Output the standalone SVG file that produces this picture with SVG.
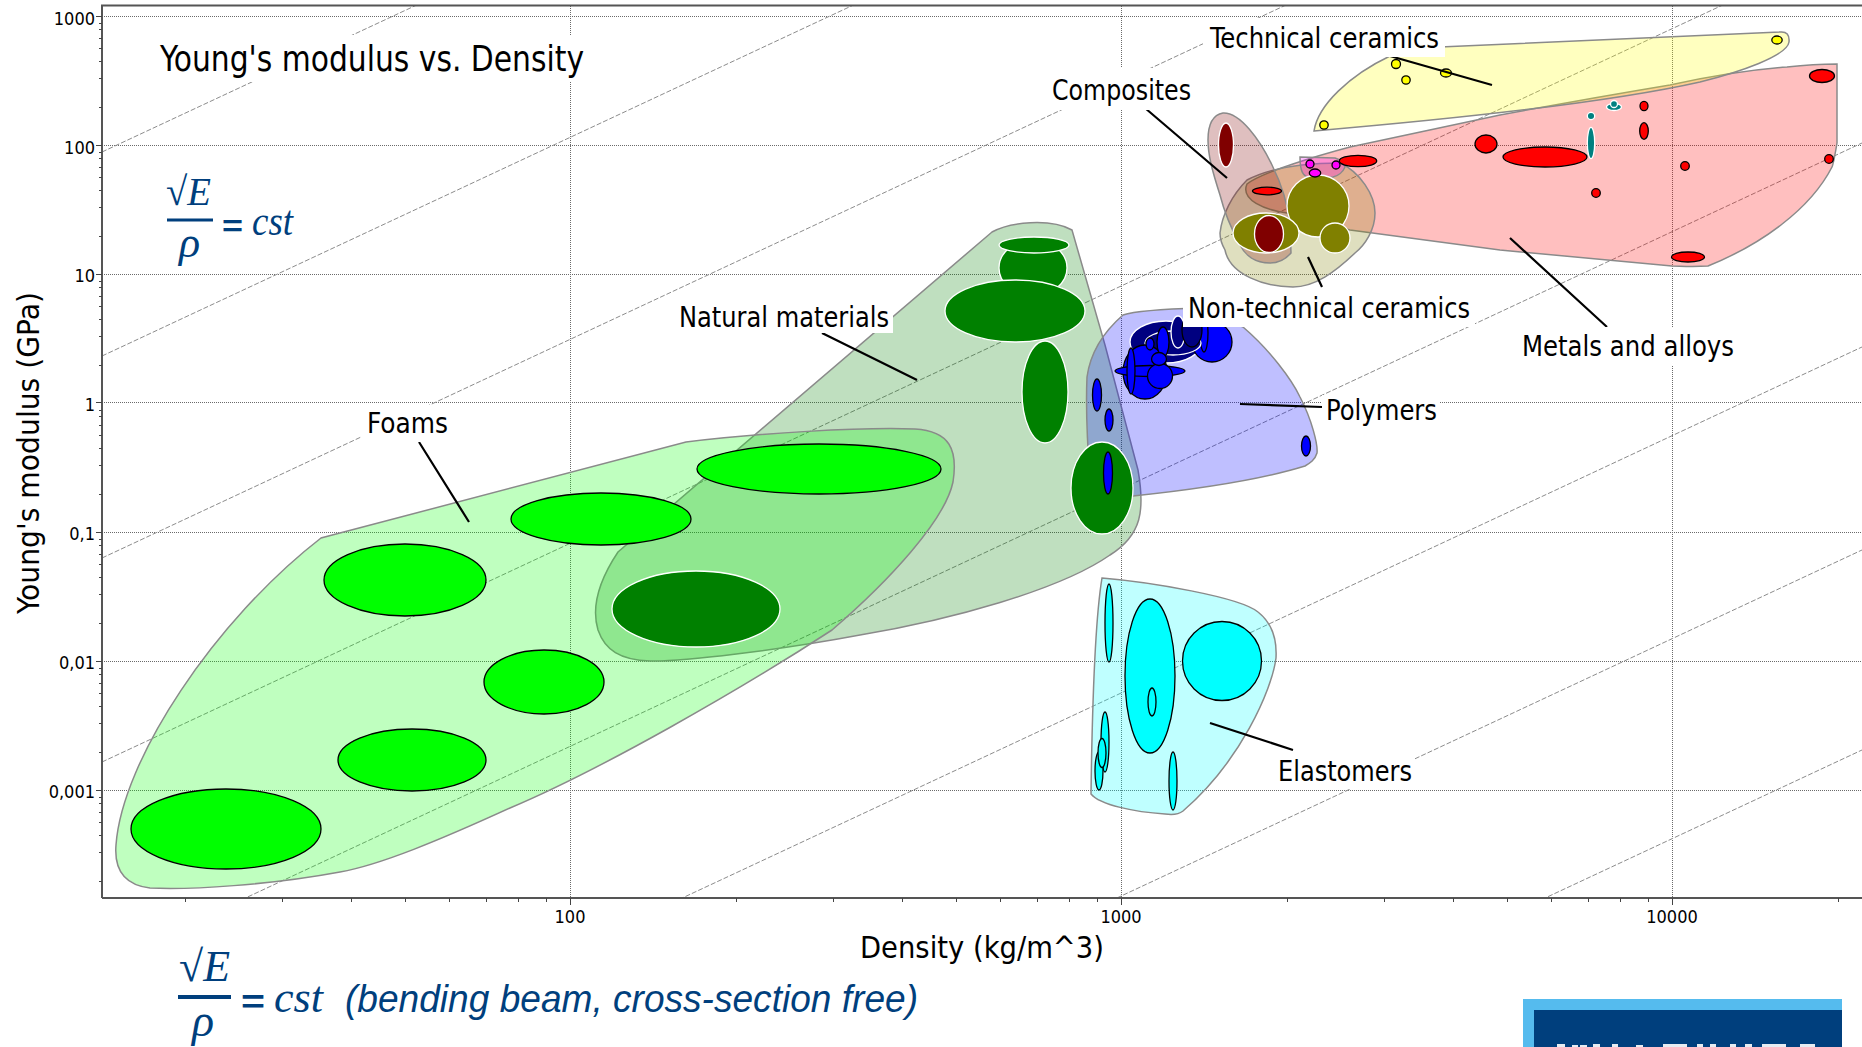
<svg xmlns="http://www.w3.org/2000/svg" width="1862" height="1047" viewBox="0 0 1862 1047">
<style>
text{font-family:"DejaVu Sans",sans-serif;font-stretch:condensed;fill:#000}
.tick{font-size:18px}
.lab{font-size:28px}
.grid{stroke:#6a6a6a;stroke-width:1;stroke-dasharray:1 1;fill:none}
.diag{stroke:#8c8c8c;stroke-width:1;stroke-dasharray:5 2;fill:none}
.ax{stroke:#555;stroke-width:2;fill:none}
.tk{stroke:#444;stroke-width:1;fill:none}
.bub{stroke:#8a8a8a;stroke-width:1.5}
.b{stroke:#000;stroke-width:1.3}
.w{stroke:#fff;stroke-width:1.3}
.lg{fill:#00ff00}.dg{fill:#008000}.cy{fill:#00ffff}.bl{fill:#0000ff}.nv{fill:#000080}.rd{fill:#ff0000}.te{fill:#008080}.yl{fill:#ffff00}.mg{fill:#ff00ff}.dr{fill:#800000}.ol{fill:#808000}
.bg{fill:#fff}
.ld{stroke:#000;stroke-width:2.2;fill:none}
.f{fill:#003f7d}
.m{font-family:"Liberation Serif",serif;font-style:italic;font-stretch:normal;fill:#003f7d}
.q{font-family:"Liberation Sans",sans-serif;font-weight:bold;font-stretch:normal;fill:#003f7d}
.s{font-family:"Liberation Sans",sans-serif;font-style:italic;font-stretch:normal;fill:#003f7d}
</style>
<defs><clipPath id="plot"><rect x="102" y="6" width="1760" height="892"/></clipPath></defs>
<rect width="1862" height="1047" fill="#fff"/>
<g id="grid">
<path class="grid" d="M102 16.500H1862M102 145.500H1862M102 274.500H1862M102 402.500H1862M102 532.500H1862M102 661.500H1862M102 790.500H1862M570.500 6V898M1121.500 6V898M1672.500 6V898"/>
<g clip-path="url(#plot)"><path class="diag" d="M102 152L1862 -670M102 356L1862 -466M102 558L1862 -264M102 762L1862 -60M102 965L1862 143M102 1169L1862 347M102 1372L1862 550M102 1572L1862 750"/></g>
</g>
<g id="axes">
<path class="ax" d="M102 898V5.500H1862M102 898H1862"/>
<path class="tk" d="M96 16.500H102M96 145.500H102M96 274.500H102M96 402.500H102M96 532.500H102M96 661.500H102M96 790.500H102M99 23.500H102M99 29.500H102M99 38.500H102M99 48.500H102M99 61.500H102M99 78.500H102M99 107.500H102M99 152.500H102M99 158.500H102M99 167.500H102M99 177.500H102M99 190.500H102M99 207.500H102M99 236.500H102M99 281.500H102M99 287.500H102M99 296.500H102M99 306.500H102M99 319.500H102M99 336.500H102M99 365.500H102M99 410.500H102M99 416.500H102M99 425.500H102M99 435.500H102M99 448.500H102M99 465.500H102M99 494.500H102M99 539.500H102M99 545.500H102M99 554.500H102M99 564.500H102M99 577.500H102M99 594.500H102M99 623.500H102M99 668.500H102M99 674.500H102M99 683.500H102M99 693.500H102M99 706.500H102M99 723.500H102M99 752.500H102M99 797.500H102M99 803.500H102M99 812.500H102M99 822.500H102M99 835.500H102M99 852.500H102M99 881.500H102"/>
<path class="tk" d="M570.500 898V905M1121.500 898V905M1672.500 898V905M185.500 898V902M282.500 898V902M351.500 898V902M405.500 898V902M449.500 898V902M486.500 898V902M518.500 898V902M546.500 898V902M736.500 898V902M833.500 898V902M902.500 898V902M956.500 898V902M1000.500 898V902M1037.500 898V902M1069.500 898V902M1097.500 898V902M1287.500 898V902M1384.500 898V902M1453.500 898V902M1507.500 898V902M1551.500 898V902M1588.500 898V902M1620.500 898V902M1648.500 898V902M1838.500 898V902"/>
<g class="tick" text-anchor="end"><text x="95" y="25">1000</text><text x="95" y="154">100</text><text x="95" y="282">10</text><text x="95" y="411">1</text><text x="95" y="540">0,1</text><text x="95" y="669">0,01</text><text x="95" y="798">0,001</text></g>
<g class="tick" text-anchor="middle"><text x="570" y="923">100</text><text x="1121" y="923">1000</text><text x="1672" y="923">10000</text></g>
<text transform="translate(39,614) rotate(-90)" font-size="30" textLength="322" lengthAdjust="spacingAndGlyphs">Young's modulus (GPa)</text>
<text x="860" y="958" font-size="30" textLength="244" lengthAdjust="spacingAndGlyphs">Density (kg/m^3)</text>
</g>
<g id="natural-materials">
<path class="bub" fill="#008000" fill-opacity=".25" d="M992 232C1010 222 1050 218 1072 230L1105 345L1138 470C1145 510 1142 535 1110 555C1060 590 950 620 860 635C780 650 680 662 650 661C620 660 605 650 598 630C592 610 596 585 618 552Z"/>
</g>
<g id="foams">
<path class="bub" fill="#00ff00" fill-opacity=".25" d="M116 845C122 760 215 620 321 538L686 442C760 433 860 427 915 429C950 431 958 450 953 482C945 520 890 580 832 630C740 690 600 770 510 808C440 840 380 865 340 872C270 885 190 890 150 888C125 885 114 870 116 845Z"/>
</g>
<g id="polymers">
<path class="bub" fill="#0000ff" fill-opacity=".25" d="M1087 377C1090 355 1100 335 1123 315C1135 311 1165 309 1200 308L1243 327C1270 350 1292 380 1300 397C1312 420 1318 445 1317 453C1315 460 1310 463 1305 466C1260 480 1190 490 1133 496L1112 497L1090 480C1087 440 1086 400 1087 377Z"/>
</g>
<g id="natural-particles">
<ellipse class="w dg" cx="696" cy="609" rx="84" ry="38"/>
<ellipse class="w dg" cx="1045" cy="392" rx="23" ry="51"/>
<ellipse class="w dg" cx="1033" cy="268" rx="34" ry="28"/>
<ellipse class="w dg" cx="1034" cy="245" rx="35" ry="8"/>
<ellipse class="w dg" cx="1015" cy="311" rx="70" ry="31"/>
<ellipse class="w dg" cx="1102" cy="488" rx="31" ry="46"/>
</g>
<g id="foam-particles" class="b lg"><ellipse cx="226" cy="829" rx="95" ry="40"/><ellipse cx="412" cy="760" rx="74" ry="31"/><ellipse cx="544" cy="682" rx="60" ry="32"/><ellipse cx="405" cy="580" rx="81" ry="36"/><ellipse cx="601" cy="519" rx="90" ry="26"/><ellipse cx="819" cy="469" rx="122" ry="25"/></g>
<g id="polymer-particles">
<g class="w nv"><ellipse cx="1166" cy="342" rx="36" ry="21"/></g>
<g class="b bl"><ellipse cx="1212" cy="342" rx="20" ry="20"/><ellipse cx="1204" cy="333" rx="4" ry="19"/></g>
<g class="w nv"><ellipse cx="1173" cy="343" rx="28" ry="12"/><ellipse cx="1178" cy="332" rx="7" ry="16"/></g>
<g class="b nv"><ellipse cx="1192" cy="330" rx="10" ry="17"/></g>
<g class="b bl"><ellipse cx="1145" cy="372" rx="22" ry="27"/><ellipse cx="1150" cy="371" rx="35" ry="5.500"/><ellipse cx="1131" cy="371" rx="4" ry="23"/><ellipse cx="1160" cy="376" rx="12.500" ry="12.500"/><ellipse cx="1163" cy="342" rx="6" ry="15"/><ellipse cx="1150" cy="344" rx="4" ry="6"/><ellipse cx="1159" cy="359" rx="7.500" ry="6.500"/><ellipse cx="1097" cy="395" rx="4.500" ry="16"/><ellipse cx="1109" cy="420" rx="4" ry="11"/><ellipse cx="1108" cy="473" rx="4.500" ry="21"/><ellipse cx="1306" cy="446" rx="4.500" ry="10"/></g>
</g>
<g id="elastomers">
<path class="bub" fill="#00ffff" fill-opacity=".25" d="M1102 578C1150 582 1240 597 1258 612C1272 623 1277 640 1276 658C1272 690 1240 762 1183 811C1178 815 1172 815 1165 814C1135 812 1100 805 1091 794C1092 720 1095 620 1102 578Z"/>
<g class="b cy"><ellipse cx="1109" cy="623" rx="4" ry="39"/><ellipse cx="1150" cy="676" rx="25" ry="77"/><ellipse cx="1222" cy="661" rx="39.500" ry="39.500"/><ellipse cx="1152" cy="702" rx="4" ry="14"/><ellipse cx="1173" cy="781" rx="4" ry="29"/><ellipse cx="1105" cy="742" rx="4" ry="30"/><ellipse cx="1099" cy="771" rx="4" ry="19"/><ellipse cx="1102" cy="753" rx="4" ry="14.500"/></g>
</g>
<g id="metals-and-alloys">
<path class="bub" fill="#ff0000" fill-opacity=".25" d="M1247 184C1262 172 1320 155 1350 147L1500 115C1570 102 1640 90 1670 85C1720 74 1760 69 1787 67C1805 65 1825 64 1837 64L1837 143C1835 155 1833 165 1832 167C1810 210 1760 245 1708 266C1690 267 1680 266 1672 266L1500 250L1350 230L1287 213C1265 210 1240 200 1247 184Z"/>
<g class="b rd"><ellipse cx="1486" cy="144" rx="11" ry="9"/><ellipse cx="1545" cy="157" rx="42" ry="10"/><ellipse cx="1644" cy="106" rx="4" ry="4.700"/><ellipse cx="1644" cy="131" rx="4.300" ry="8.300"/><ellipse cx="1685" cy="166" rx="4.300" ry="4.300"/><ellipse cx="1596" cy="193" rx="4.300" ry="4.300"/><ellipse cx="1822" cy="76" rx="12.500" ry="6.500"/><ellipse cx="1829" cy="159" rx="4.300" ry="4.300"/><ellipse cx="1688" cy="257" rx="16.500" ry="5"/></g>
<g class="w te"><ellipse cx="1591" cy="116" rx="3.700" ry="3.700"/><ellipse cx="1591" cy="143" rx="3.700" ry="15.700"/><ellipse cx="1614" cy="107" rx="7.500" ry="3.500"/><ellipse cx="1614" cy="104" rx="3.500" ry="3.500"/></g>
</g>
<g id="technical-ceramics">
<path class="bub" fill="#ffff00" fill-opacity=".25" d="M1314 131C1318 105 1350 75 1390 56L1440 47L1780 32Q1790 31 1789 42C1787 56 1740 72 1700 82C1620 100 1500 115 1314 131Z"/>
<g class="b yl"><ellipse cx="1777" cy="40" rx="5.200" ry="4"/><ellipse cx="1396" cy="64" rx="4.500" ry="4.500"/><ellipse cx="1406" cy="80" rx="4.200" ry="4.200"/><ellipse cx="1446" cy="73" rx="5.500" ry="4"/><ellipse cx="1324" cy="125" rx="4.200" ry="4.200"/></g>
</g>
<g id="non-technical-ceramics">
<path class="bub" fill="#808000" fill-opacity=".25" d="M1220 233C1222 215 1232 195 1247 180C1270 168 1300 163 1340 163C1360 172 1375 195 1375 213C1375 230 1365 245 1355 253C1335 272 1315 287 1293 287C1265 287 1230 275 1225 250C1221 243 1220 238 1220 233Z"/>
</g>
<g id="composites">
<path class="bub" fill="#800000" fill-opacity=".25" d="M1223 113C1240 112 1260 140 1272 165C1282 185 1288 205 1290 225L1291 253C1285 260 1278 263 1270 263C1255 263 1245 255 1240 245C1232 230 1225 215 1220 195C1212 170 1208 155 1208 140C1208 125 1212 115 1223 113Z"/>
</g>
<g id="magenta">
<path class="bub" fill="#ff00ff" fill-opacity=".25" d="M1300 157L1335 158C1342 160 1345 164 1345 167C1343 172 1338 176 1333 177L1310 178C1303 176 1300 172 1300 157Z"/>
</g>
<g id="inner-particles">
<g class="w ol"><ellipse cx="1318" cy="206" rx="31" ry="31"/><ellipse cx="1335" cy="238" rx="15" ry="15"/><ellipse cx="1266" cy="233" rx="33" ry="20"/></g>
<g class="w dr"><ellipse cx="1226" cy="145" rx="7.500" ry="22"/><ellipse cx="1269" cy="234" rx="14.500" ry="18.500"/></g>
<g class="b mg"><ellipse cx="1310" cy="164" rx="4" ry="4"/><ellipse cx="1336" cy="165" rx="4" ry="4"/><ellipse cx="1315" cy="173" rx="5.700" ry="4"/></g>
<g class="b rd"><ellipse cx="1358" cy="161" rx="18.700" ry="5.700"/><ellipse cx="1267" cy="191" rx="14.500" ry="3.800"/></g>
</g>
<g id="connectors">
<path class="ld" d="M419 442L469 522M822 333L917 380M1145 108L1227 178M1390 56L1492 85M1308 257L1322 287M1510 238L1607 327M1240 404L1322 407M1210 723L1293 750"/>
</g>
<g id="labels">
<rect class="bg" x="155" y="35" width="435" height="47"/>
<rect class="bg" x="362" y="405" width="80" height="37"/>
<rect class="bg" x="675" y="295" width="218" height="38"/>
<rect class="bg" x="1045" y="68" width="155" height="42"/>
<rect class="bg" x="1203" y="18" width="242" height="39"/>
<rect class="bg" x="1183" y="289" width="292" height="38"/>
<rect class="bg" x="1515" y="327" width="223" height="38"/>
<rect class="bg" x="1322" y="395" width="118" height="37"/>
<rect class="bg" x="1273" y="751" width="142" height="38"/>
<text x="160" y="71" font-size="35" textLength="424" lengthAdjust="spacingAndGlyphs">Young's modulus vs. Density</text>
<text class="lab" x="367" y="433" textLength="81" lengthAdjust="spacingAndGlyphs">Foams</text>
<text class="lab" x="679" y="327" textLength="210" lengthAdjust="spacingAndGlyphs">Natural materials</text>
<text class="lab" x="1052" y="100" textLength="139" lengthAdjust="spacingAndGlyphs">Composites</text>
<text class="lab" x="1210" y="48" textLength="229" lengthAdjust="spacingAndGlyphs">Technical ceramics</text>
<text class="lab" x="1188" y="318" textLength="282" lengthAdjust="spacingAndGlyphs">Non-technical ceramics</text>
<text class="lab" x="1522" y="356" textLength="212" lengthAdjust="spacingAndGlyphs">Metals and alloys</text>
<text class="lab" x="1326" y="420" textLength="111" lengthAdjust="spacingAndGlyphs">Polymers</text>
<text class="lab" x="1278" y="781" textLength="134" lengthAdjust="spacingAndGlyphs">Elastomers</text>
</g>
<g id="formula-top">
<text class="m" x="166" y="205" font-size="40" textLength="45" lengthAdjust="spacingAndGlyphs">√E</text>
<rect class="f" x="167" y="218.500" width="46" height="3"/>
<text class="m" x="179" y="257" font-size="44">ρ</text>
<text class="q" x="222" y="236" font-size="30" textLength="21" lengthAdjust="spacingAndGlyphs">=</text>
<text class="m" x="252" y="235" font-size="42" textLength="41" lengthAdjust="spacingAndGlyphs">cst</text>
</g>
<g id="formula-bottom">
<text class="m" x="179" y="981" font-size="44" textLength="51" lengthAdjust="spacingAndGlyphs">√E</text>
<rect class="f" x="178" y="995" width="53" height="4"/>
<text class="m" x="192" y="1036" font-size="46">ρ</text>
<text class="q" x="241" y="1013" font-size="33" textLength="24" lengthAdjust="spacingAndGlyphs">=</text>
<text class="m" x="274" y="1012" font-size="44" textLength="49" lengthAdjust="spacingAndGlyphs">cst</text>
<text class="s" x="345" y="1012" font-size="38" textLength="573" lengthAdjust="spacingAndGlyphs">(bending beam, cross-section free)</text>
</g>
<g id="logo">
<rect x="1523" y="999" width="319" height="48" fill="#55bbee"/>
<rect x="1534" y="1010" width="308" height="37" fill="#003f7d"/>
<path fill="#fff" fill-opacity=".9" d="M1557 1044h8v3h-8zM1572 1045h6v2h-6zM1580 1045h7v2h-7zM1593 1044h7v3h-7zM1612 1044h6v3h-6zM1636 1045h7v2h-7zM1663 1044h24v3h-24zM1697 1044h6v3h-6zM1710 1044h6v3h-6zM1730 1044h6v3h-6zM1745 1044h7v3h-7zM1762 1044h24v3h-24zM1800 1044h15v3h-15z"/>
</g>
</svg>
